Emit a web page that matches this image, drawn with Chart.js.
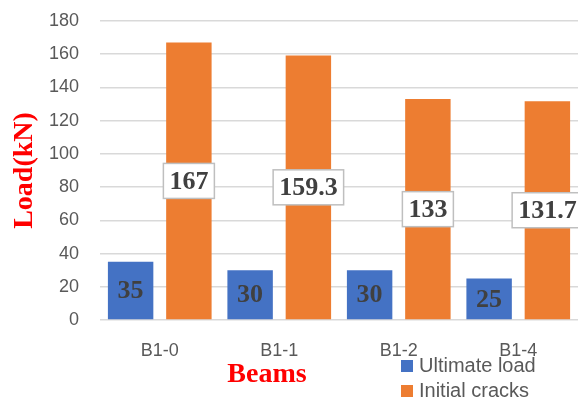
<!DOCTYPE html>
<html>
<head>
<meta charset="utf-8">
<script src="https://cdn.jsdelivr.net/npm/chart.js@4.4.1/dist/chart.umd.min.js"></script>
<style>
  html, body { margin: 0; padding: 0; background: #ffffff; }
  #wrap { width: 578px; height: 397px; position: relative; }
</style>
</head>
<body>
<div id="wrap"><canvas id="chart" width="578" height="397"></canvas></div>
<script>
// Beam test results
const beams = ['B1-0', 'B1-1', 'B1-2', 'B1-4'];
const ultimateLoad = [35, 30, 30, 25];
const initialCracks = [167, 159.3, 133, 131.7];
const yTicks = [0, 20, 40, 60, 80, 100, 120, 140, 160, 180];

const TICK_FONT = { family: '"Liberation Sans", Arial, sans-serif', size: 18 };
const SERIF = '"Liberation Serif", "Times New Roman", serif';

// Value labels drawn at the middle of each bar; the second series gets a boxed label
const valueLabels = {
  id: 'valueLabels',
  afterDatasetsDraw(chart) {
    const ctx = chart.ctx;
    ctx.save();
    ctx.font = 'bold 26px ' + SERIF;
    ctx.textAlign = 'center';
    ctx.textBaseline = 'middle';
    chart.data.datasets.forEach((ds, di) => {
      const meta = chart.getDatasetMeta(di);
      meta.data.forEach((bar, i) => {
        const text = String(ds.data[i]);
        const x = bar.x;
        const y = (bar.y + bar.base) / 2;
        if (di === 1) {
          const w = ctx.measureText(text).width + 12;
          const h = 35;
          ctx.fillStyle = '#ffffff';
          ctx.fillRect(x - w / 2, y - h / 2, w, h);
          ctx.strokeStyle = '#bfbfbf';
          ctx.lineWidth = 1.5;
          ctx.strokeRect(x - w / 2, y - h / 2, w, h);
        }
        ctx.fillStyle = '#404040';
        ctx.fillText(text, x, y + 1);
      });
    });
    ctx.restore();
  }
};

// Axis titles and the stacked legend at the bottom right
const titlesAndLegend = {
  id: 'titlesAndLegend',
  afterDraw(chart) {
    const ctx = chart.ctx;
    const area = chart.chartArea;
    ctx.save();
    ctx.fillStyle = '#ff0000';
    ctx.font = 'bold 28px ' + SERIF;
    ctx.textAlign = 'center';
    ctx.textBaseline = 'middle';
    // y axis title
    ctx.save();
    ctx.translate(25, (area.top + area.bottom) / 2);
    ctx.rotate(-Math.PI / 2);
    ctx.fillText('Load(kN)', 0, 0);
    ctx.restore();
    // x axis title
    ctx.textBaseline = 'alphabetic';
    ctx.fillText('Beams', 267, 382);

    // legend
    ctx.font = '20px ' + TICK_FONT.family;
    ctx.textAlign = 'left';
    ctx.textBaseline = 'middle';
    chart.data.datasets.forEach((ds, i) => {
      const y = 366 + i * 25;
      ctx.fillStyle = ds.backgroundColor;
      ctx.fillRect(401, y - 6, 12, 12);
      ctx.fillStyle = '#595959';
      ctx.fillText(ds.label, 419, y);
    });
    ctx.restore();
  }
};

new Chart(document.getElementById('chart'), {
  type: 'bar',
  data: {
    labels: beams,
    datasets: [
      { label: 'Ultimate load', data: ultimateLoad, backgroundColor: '#4472c4' },
      { label: 'Initial cracks', data: initialCracks, backgroundColor: '#ed7d31' }
    ]
  },
  options: {
    responsive: false,
    animation: false,
    devicePixelRatio: 1,
    layout: { padding: { top: 21, right: 0, bottom: 0, left: 0 } },
    datasets: {
      bar: { categoryPercentage: 0.975, barPercentage: 0.78 }
    },
    plugins: {
      legend: { display: false },
      tooltip: { enabled: false }
    },
    scales: {
      x: {
        grid: { display: false },
        border: { display: false },
        ticks: { color: '#595959', font: TICK_FONT, padding: 12 },
        afterFit(scale) { scale.height = 77; scale.paddingLeft = 0; scale.paddingRight = 0; }
      },
      y: {
        min: 0,
        max: 180,
        afterBuildTicks(scale) { scale.ticks = yTicks.map(v => ({ value: v })); },
        grid: { color: '#d9d9d9', lineWidth: 1.5, drawTicks: false },
        border: { display: false },
        ticks: { color: '#595959', font: TICK_FONT, padding: 21 },
        afterFit(scale) { scale.width = 100; scale.paddingTop = 0; scale.paddingBottom = 0; }
      }
    }
  },
  plugins: [valueLabels, titlesAndLegend]
});
</script>
</body>
</html>
